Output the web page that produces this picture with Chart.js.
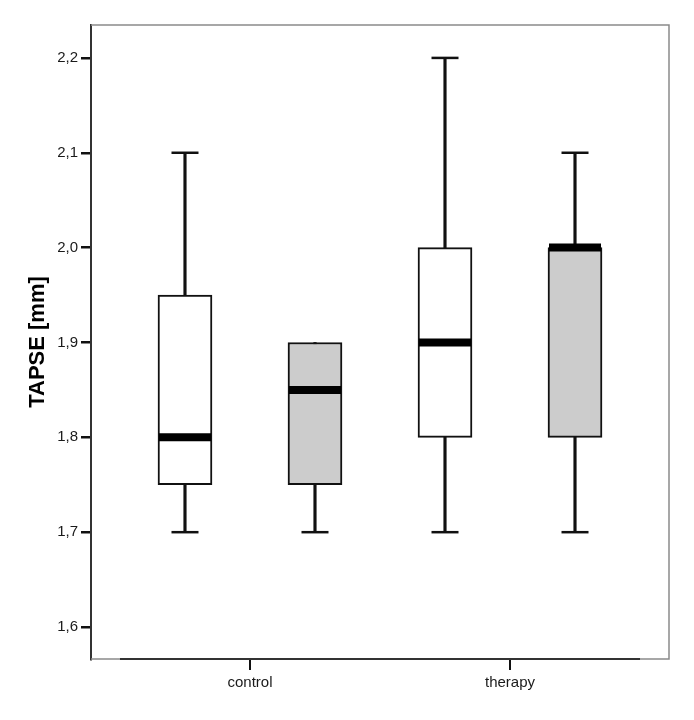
<!DOCTYPE html>
<html>
<head>
<meta charset="utf-8">
<script src="https://cdn.jsdelivr.net/npm/chart.js@4/dist/chart.umd.min.js"></script>
<style>
  html, body { margin: 0; padding: 0; background: #ffffff; }
  #wrap { width: 694px; height: 720px; }
</style>
</head>
<body>
<div id="wrap"><canvas id="c" width="694" height="720"></canvas></div>
<script>
// ---- data ----
const categories = ['control', 'therapy'];
const groupPositions = [1, 2];
const yTicks = [1.6, 1.7, 1.8, 1.9, 2.0, 2.1, 2.2];
const yTickLabels = ['1,6', '1,7', '1,8', '1,9', '2,0', '2,1', '2,2'];

// series 1 (white boxes), per category
const whiteMin = [1.70, 1.70];
const whiteQ1 = [1.75, 1.80];
const whiteMedian = [1.80, 1.90];
const whiteQ3 = [1.95, 2.00];
const whiteMax = [2.10, 2.20];

// series 2 (grey boxes), per category
const greyMin = [1.70, 1.70];
const greyQ1 = [1.75, 1.80];
const greyMedian = [1.85, 2.00];
const greyQ3 = [1.90, 2.00];
const greyMax = [1.90, 2.10];

// ---- layout constants ----
const SERIES_OFFSET = 0.25;
const BOX_PX = 54;

function boxesFor(offset, q1, q3) {
  return groupPositions.map((p, i) => ({ x: p + offset, y: [q1[i], q3[i]] }));
}
function stemsFor(offset, mn, mx) {
  return groupPositions.map((p, i) => ({ x: p + offset, y: [mn[i], mx[i]] }));
}
function capsFor(offset, mn, q1, q3, mx) {
  const pts = [];
  groupPositions.forEach((p, i) => {
    if (mx[i] > q3[i]) pts.push({ x: p + offset, y: mx[i] });
    if (mn[i] < q1[i]) pts.push({ x: p + offset, y: mn[i] });
  });
  return pts;
}
function mediansFor(offset, md) {
  return groupPositions.map((p, i) => ({ x: p + offset, y: md[i] }));
}

const BLACK = '#111111';
const GREY = '#cccccc';

const datasets = [
  { type: 'bar', data: stemsFor(-SERIES_OFFSET, whiteMin, whiteMax), backgroundColor: BLACK, borderWidth: 0, barThickness: 2.5, grouped: false, order: 5 },
  { type: 'bar', data: stemsFor(SERIES_OFFSET, greyMin, greyMax), backgroundColor: BLACK, borderWidth: 0, barThickness: 2.5, grouped: false, order: 5 },
  { type: 'bar', data: boxesFor(-SERIES_OFFSET, whiteQ1, whiteQ3), backgroundColor: '#ffffff', borderColor: BLACK, borderWidth: 2, borderSkipped: false, barThickness: BOX_PX, grouped: false, order: 4 },
  { type: 'bar', data: boxesFor(SERIES_OFFSET, greyQ1, greyQ3), backgroundColor: GREY, borderColor: BLACK, borderWidth: 2, borderSkipped: false, barThickness: BOX_PX, grouped: false, order: 4 },
  { type: 'scatter', data: capsFor(-SERIES_OFFSET, whiteMin, whiteQ1, whiteQ3, whiteMax), pointStyle: 'line', pointRadius: 13.5, pointHoverRadius: 13.5, borderColor: BLACK, pointBorderWidth: 2.5, order: 2 },
  { type: 'scatter', data: capsFor(SERIES_OFFSET, greyMin, greyQ1, greyQ3, greyMax), pointStyle: 'line', pointRadius: 13.5, pointHoverRadius: 13.5, borderColor: BLACK, pointBorderWidth: 2.5, order: 2 },
  { type: 'scatter', data: mediansFor(-SERIES_OFFSET, whiteMedian), pointStyle: 'line', pointRadius: 26, pointHoverRadius: 26, borderColor: '#000000', pointBorderWidth: 8, order: 1 },
  { type: 'scatter', data: mediansFor(SERIES_OFFSET, greyMedian), pointStyle: 'line', pointRadius: 26, pointHoverRadius: 26, borderColor: '#000000', pointBorderWidth: 8, order: 1 }
];

const framePlugin = {
  id: 'frame',
  beforeDatasetsDraw(chart) {
    const { ctx, chartArea: a, scales } = chart;
    ctx.save();
    ctx.strokeStyle = '#8a8a8a';
    ctx.lineWidth = 1.5;
    ctx.beginPath();
    ctx.moveTo(a.left, a.top);
    ctx.lineTo(a.right, a.top);
    ctx.lineTo(a.right, a.bottom);
    ctx.lineTo(a.left, a.bottom);
    ctx.stroke();
    const x = scales.x;
    ctx.strokeStyle = '#333333';
    ctx.lineWidth = 2;
    ctx.beginPath();
    ctx.moveTo(x.getPixelForValue(0.5), a.bottom);
    ctx.lineTo(x.getPixelForValue(2.5), a.bottom);
    ctx.stroke();
    ctx.restore();
  }
};

function noPad(s) {
  s.paddingTop = 0; s.paddingBottom = 0; s.paddingLeft = 0; s.paddingRight = 0;
}

new Chart(document.getElementById('c'), {
  type: 'scatter',
  data: { datasets },
  plugins: [framePlugin],
  options: {
    responsive: false,
    animation: false,
    events: [],
    layout: { autoPadding: false, padding: { left: 0, top: 25, right: 25, bottom: 0 } },
    plugins: { legend: { display: false }, tooltip: { enabled: false } },
    scales: {
      x: {
        type: 'linear',
        min: 0.3885,
        max: 2.6115,
        offset: false,
        afterFit(s) { s.height = 61; noPad(s); },
        afterBuildTicks(s) { s.ticks = groupPositions.map(v => ({ value: v })); },
        grid: { display: true, drawOnChartArea: false, drawTicks: true, tickLength: 11, color: '#111111', lineWidth: 2, offset: false },
        border: { display: false },
        ticks: {
          autoSkip: false,
          maxRotation: 0,
          padding: 4,
          color: '#1a1a1a',
          font: { family: 'Liberation Sans, Arial, sans-serif', size: 15 },
          callback: (v, i) => categories[i]
        }
      },
      y: {
        type: 'linear',
        min: 1.5663,
        max: 2.2347,
        afterFit(s) { s.width = 91; noPad(s); },
        afterBuildTicks(s) { s.ticks = yTicks.map(v => ({ value: v })); },
        grid: { display: true, drawOnChartArea: false, drawTicks: true, tickLength: 10, color: '#111111', lineWidth: 2.5 },
        border: { display: true, color: '#333333', width: 2 },
        ticks: {
          autoSkip: false,
          padding: 3,
          color: '#1a1a1a',
          font: { family: 'Liberation Sans, Arial, sans-serif', size: 15 },
          callback: (v, i) => yTickLabels[i]
        },
        title: {
          display: true,
          text: 'TAPSE [mm]',
          color: '#000000',
          font: { family: 'Liberation Sans, Arial, sans-serif', size: 22, weight: 'bold' },
          padding: { top: 25, bottom: 0 }
        }
      }
    }
  }
});
</script>
</body>
</html>
